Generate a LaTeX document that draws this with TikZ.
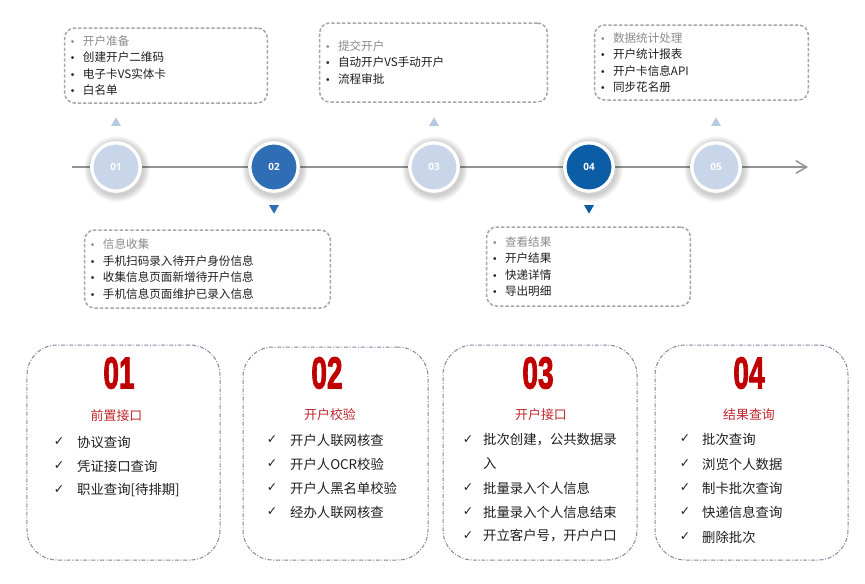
\documentclass[tikz,border=0pt]{standalone}
\usepackage{fontspec}
\usepackage{graphicx}
\setmainfont{Noto Sans CJK SC}
\newfontfamily\symfont{DejaVu Sans}
\newfontfamily\digitfont[BoldFeatures={FakeBold=2.5}]{Liberation Sans}
\newfontfamily\dotnumfont{Open Sans}
\usetikzlibrary{shapes.geometric,arrows.meta}
\definecolor{palefill}{HTML}{C9D6EA}
\definecolor{paletri}{HTML}{B7C8E2}
\definecolor{midblue}{HTML}{2F6EB5}
\definecolor{deepblue}{HTML}{0B5DA6}
\definecolor{tipline}{HTML}{A6A6A6}
\definecolor{tipgray}{HTML}{8C8C8C}
\definecolor{cardline}{HTML}{7F8A9E}
\definecolor{numred}{HTML}{C00000}
\definecolor{titlered}{HTML}{C0282D}
\definecolor{inktext}{HTML}{1F1F1F}
\newcommand{\bul}[1]{\makebox[3.9mm][l]{{\symfont\fontsize{8}{10}\selectfont •}}#1}
\newcommand{\tiphead}[1]{\textcolor{tipgray}{\bul{#1}}}

\begin{document}
\begin{tikzpicture}[x=0.3mm,y=-0.3mm,
    tipbox/.style={draw=tipline, dash pattern=on 1mm off 0.6mm, line width=0.45mm,
      rounded corners=3mm, align=left, inner xsep=1.6mm, text=inktext,
      font=\fontsize{9.9}{14.1}\selectfont},
    stepdot/.style={circle, draw=white, line width=1mm, minimum size=14.5mm, inner sep=0pt,
      text=white, font=\dotnumfont\bfseries\fontsize{8.5}{10}\selectfont},
    uptri/.style={regular polygon, regular polygon sides=3, fill=paletri, minimum size=3.4mm, inner sep=0pt},
    downtri/.style={regular polygon, regular polygon sides=3, shape border rotate=180, minimum size=3.4mm, inner sep=0pt},
    card/.style={draw=cardline, line width=0.3mm, dash pattern=on 1.2mm off 0.5mm on 0.3mm off 0.5mm,
      rounded corners=9mm},
    bignum/.style={text=numred, font=\digitfont\bfseries\fontsize{26}{26}\selectfont},
    cardtitle/.style={text=titlered, font=\fontsize{11}{13}\selectfont},
    chk/.style={text=inktext, font=\symfont\fontsize{10.5}{12}\selectfont},
    item/.style={anchor=west, text=inktext, inner xsep=0pt, font=\fontsize{11.4}{14}\selectfont}]

    \fill[white] (0,0) rectangle (865,583);
    \useasboundingbox (0,0) rectangle (865,583);

    % Timeline
    \coordinate (tlstart) at (72,167);
    \coordinate (tlend) at (808,167);
    \draw[gray!85, line width=0.45mm, -{Straight Barb[length=3.2mm,width=3.8mm]}] (tlstart) -- (tlend);

    % Soft shadows under the steps
    \foreach \cx in {116,274,434,589,716}
      \foreach \r in {9.8,9.4,9.0,8.6,8.2}
        \fill[black,opacity=0.04] (\cx+1,169) circle (\r mm);

    % Steps
    \node[stepdot, fill=palefill] (s1) at (116,167) {01};
    \node[stepdot, fill=midblue]  (s2) at (274,167) {02};
    \node[stepdot, fill=palefill] (s3) at (434,167) {03};
    \node[stepdot, fill=deepblue] (s4) at (589,167) {04};
    \node[stepdot, fill=palefill] (s5) at (716,167) {05};

    % Pointers
    \node[uptri] (p1) at (116,123) {};
    \node[uptri] (p3) at (434,123) {};
    \node[uptri] (p5) at (716,123) {};
    \node[downtri, fill=midblue]  (p2) at (274,208) {};
    \node[downtri, fill=deepblue] (p4) at (589,208) {};

    % Notes above and below the timeline
    \node[tipbox, text width=57.6mm, minimum height=22.5mm] (prep) at (166,65.5)
      {\tiphead{开户准备}\\ \bul{创建开户二维码}\\ \bul{电子卡VS实体卡}\\ \bul{白名单}};
    \node[tipbox, text width=65.1mm, minimum height=23.7mm] (submit) at (433.5,62.5)
      {\tiphead{提交开户}\\ \bul{自动开户VS手动开户}\\ \bul{流程审批}};
    \node[tipbox, text width=60.9mm, minimum height=22.5mm] (stats) at (701.5,62.5)
      {\tiphead{数据统计处理}\\ \bul{开户统计报表}\\ \bul{开户卡信息API}\\ \bul{同步花名册}};
    \node[tipbox, text width=70.5mm, minimum height=23.4mm] (collect) at (207.5,269)
      {\tiphead{信息收集}\\ \bul{手机扫码录入待开户身份信息}\\ \bul{收集信息页面新增待开户信息}\\ \bul{手机信息页面维护已录入信息}};
    \node[tipbox, text width=57.9mm, minimum height=23.7mm] (result) at (588.5,266.5)
      {\tiphead{查看结果}\\ \bul{开户结果}\\ \bul{快递详情}\\ \bul{导出明细}};

    % Card 01
    \node[card, minimum width=57.9mm, minimum height=64.5mm] (card1) at (123.5,452.5) {};
    \node[bignum] (num1) at (119,373) {\scalebox{0.92}[1.47]{01}};
    \node[cardtitle] (title1) at (116.5,416) {前置接口};
    \foreach \t/\y [count=\k] in {协议查询/442, 凭证接口查询/466, 职业查询[待排期]/490} {
      \node[chk] (ca\k) at (59,\y) {✓};
      \node[item] (ia\k) at (77,\y) {\t};
    }

    % Card 02
    \node[card, minimum width=55.5mm, minimum height=63.9mm] (card2) at (335.5,453.5) {};
    \node[bignum] (num2) at (327,373) {\scalebox{0.92}[1.47]{02}};
    \node[cardtitle] (title2) at (330,415) {开户校验};
    \foreach \t/\y [count=\k] in {开户人联网核查/440, 开户人OCR校验/464, 开户人黑名单校验/488, 经办人联网核查/512} {
      \node[chk] (cb\k) at (272,\y) {✓};
      \node[item] (ib\k) at (290,\y) {\t};
    }

    % Card 03
    \node[card, minimum width=58.2mm, minimum height=64.5mm] (card3) at (540,452.5) {};
    \node[bignum] (num3) at (538,373) {\scalebox{0.92}[1.47]{03}};
    \node[cardtitle] (title3) at (541,415) {开户接口};
    \foreach \t/\y [count=\k] in {批次创建，公共数据录/440, 批量录入个人信息/488, 批量录入个人信息结束/512, 开立客户号，开户户口/536} {
      \node[chk] (cc\k) at (468,\y) {✓};
      \node[item] (ic\k) at (483,\y) {\t};
    }
    \node[item] (ic1b) at (483,464) {入};

    % Card 04
    \node[card, minimum width=57.9mm, minimum height=64.5mm] (card4) at (751.5,452.5) {};
    \node[bignum] (num4) at (749,373) {\scalebox{0.92}[1.47]{04}};
    \node[cardtitle] (title4) at (749,415) {结果查询};
    \foreach \t/\y [count=\k] in {批次查询/439, 浏览个人数据/464, 制卡批次查询/488, 快递信息查询/512, 删除批次/537} {
      \node[chk] (cd\k) at (685,\y) {✓};
      \node[item] (id\k) at (702,\y) {\t};
    }
\end{tikzpicture}
\end{document}
